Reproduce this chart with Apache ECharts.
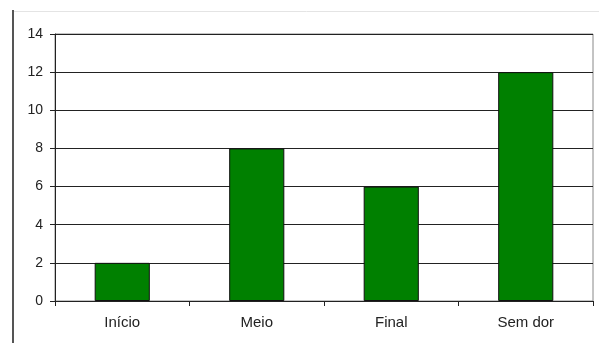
<!DOCTYPE html>
<html>
<head>
<meta charset="utf-8">
<script src="https://cdn.jsdelivr.net/npm/echarts@6/dist/echarts.min.js"></script>
<style>
html,body{margin:0;padding:0;background:#fff;}
#c{width:599px;height:343px;}
</style>
</head>
<body>
<div id="c"></div>
<script>
var categories = ['Início', 'Meio', 'Final', 'Sem dor'];
var values = [2, 8, 6, 12];
var yTicks = [0, 2, 4, 6, 8, 10, 12, 14];

var chart = echarts.init(document.getElementById('c'), null, {renderer: 'canvas'});
chart.setOption({
  animation: false,
  backgroundColor: '#fff',
  graphic: [
    {type: 'line', shape: {x1: 13, y1: 10, x2: 13, y2: 343}, style: {stroke: '#555', lineWidth: 2}},
    {type: 'line', shape: {x1: 14, y1: 11.5, x2: 599, y2: 11.5}, style: {stroke: '#e4e4e4', lineWidth: 1}}
  ],
  grid: {left: 55, top: 34, right: 6, bottom: 42, show: true, borderColor: '#888', borderWidth: 1},
  xAxis: {
    type: 'category',
    data: categories,
    axisLine: {lineStyle: {color: '#222', width: 1}},
    axisTick: {show: true, alignWithLabel: false, length: 5, lineStyle: {color: '#222'}},
    axisLabel: {color: '#222', fontFamily: 'Liberation Sans, Arial', fontSize: 15, margin: 14},
    splitLine: {show: false}
  },
  yAxis: {
    type: 'value',
    min: 0, max: 14, interval: 2,
    axisLine: {show: true, lineStyle: {color: '#222', width: 1}},
    axisTick: {show: true, length: 5, lineStyle: {color: '#222'}},
    axisLabel: {color: '#222', fontFamily: 'Liberation Sans, Arial', fontSize: 14, margin: 12,
      formatter: function (v) { return yTicks.indexOf(v) >= 0 ? String(v) : ''; }},
    splitLine: {show: true, lineStyle: {color: '#222', width: 1}}
  },
  series: [{
    type: 'bar',
    data: values,
    barWidth: '41%',
    itemStyle: {color: '#008000', borderColor: '#111', borderWidth: 1}
  }]
});
</script>
</body>
</html>
